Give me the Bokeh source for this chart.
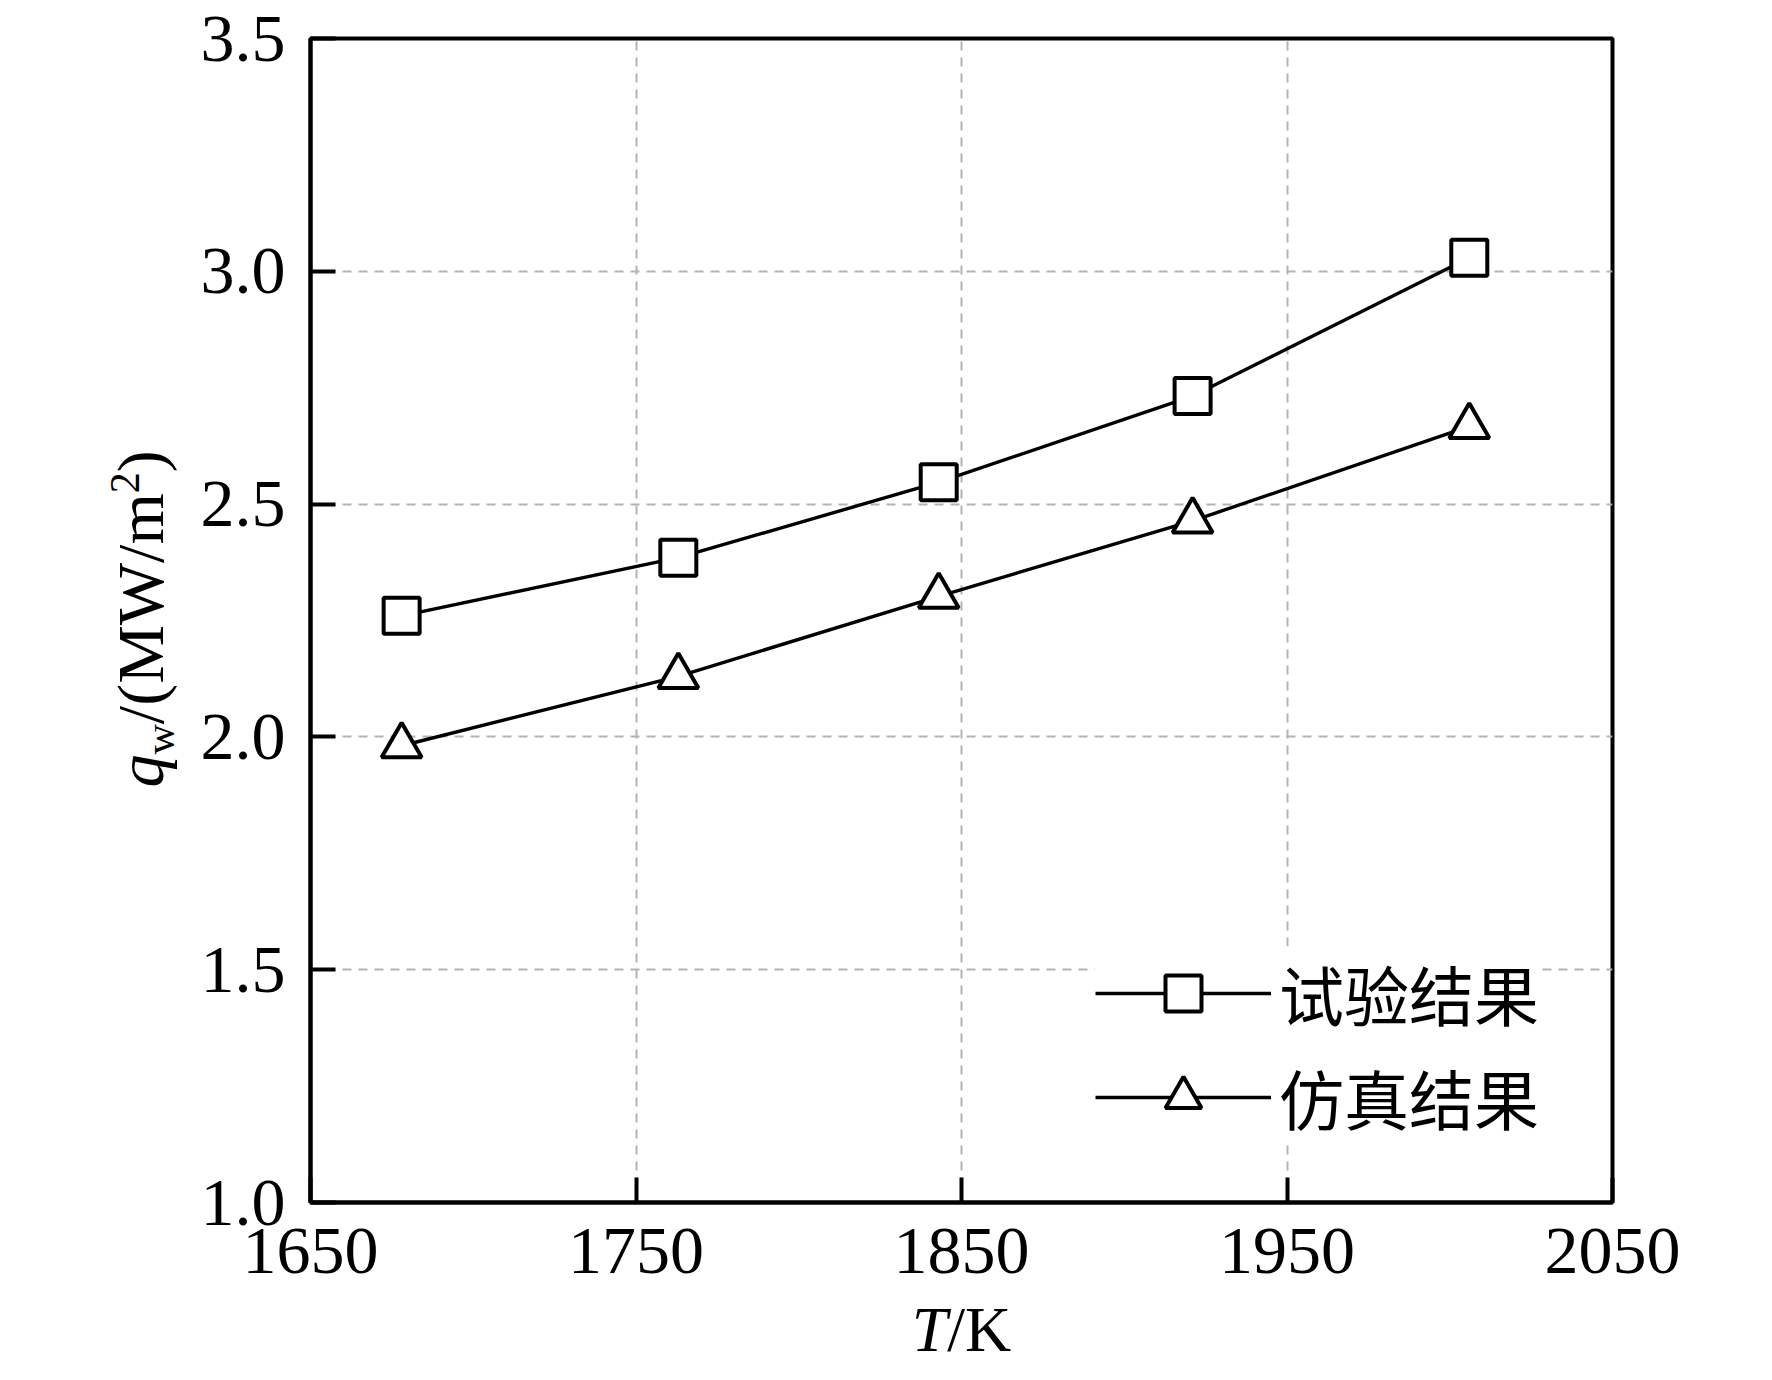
import math
from bokeh.plotting import figure
from bokeh.models import Legend, LegendItem, FixedTicker, Range1d
from bokeh.layouts import row, column
from bokeh.core.properties import value
from bokeh.embed import file_html
from bokeh.resources import INLINE

# ---- data ----
temps = [1678, 1763, 1843, 1921, 2006]
exp_q = [2.260, 2.385, 2.547, 2.732, 3.029]
sim_q = [1.981, 2.130, 2.302, 2.464, 2.667]
series_names = ["试验结果", "仿真结果"]
x_ticks = [1650, 1750, 1850, 1950, 2050]
x_tick_labels = ["1650", "1750", "1850", "1950", "2050"]
y_ticks = [1.0, 1.5, 2.0, 2.5, 3.0, 3.5]
y_tick_labels = ["1.0", "1.5", "2.0", "2.5", "3.0", "3.5"]

SERIF = "Liberation Serif"
CJK = "Noto Sans CJK SC"
FS = 68          # tick labels
TS = 66          # y-axis title
XS = 64          # x-axis title
SUB = 42         # sub/superscript
OFF = 0.33       # text glyph baseline offset (fraction of font size)

FW, FH = 1302, 1164
LEFT_W = 190                  # strip that holds the y-axis title
BL, BR, BT, BB = 120, 100, 38, 104
PW = BL + FW + BR
PH = BT + FH + BB
PAGE_BOTTOM = 1372
FRAME_BOTTOM = 8 + BT + FH    # page y of the frame bottom

p = figure(width=PW, height=PH,
           x_range=Range1d(x_ticks[0], x_ticks[-1]),
           y_range=Range1d(y_ticks[0], y_ticks[-1]),
           output_backend="svg", toolbar_location=None, title_location=None,
           min_border_left=BL, min_border_right=BR,
           min_border_top=BT, min_border_bottom=BB,
           background_fill_color="white", border_fill_color="white")
p.outline_line_color = "black"
p.outline_line_width = 4

for ax, ticks, labels in ((p.xaxis[0], x_ticks, x_tick_labels), (p.yaxis[0], y_ticks, y_tick_labels)):
    ax.ticker = FixedTicker(ticks=ticks, minor_ticks=[])
    ax.major_label_overrides = {t: l for t, l in zip(ticks, labels)}
    ax.axis_line_color = "black"
    ax.axis_line_width = 4
    ax.major_tick_line_color = "black"
    ax.major_tick_line_width = 4
    ax.major_tick_in = 25
    ax.major_tick_out = 0
    ax.minor_tick_line_color = None
    ax.major_label_text_font = SERIF
    ax.major_label_text_font_size = f"{FS}px"
    ax.major_label_text_color = "black"
p.yaxis[0].major_label_standoff = 25
p.xaxis[0].major_label_standoff = 26

p.xgrid.ticker = FixedTicker(ticks=x_ticks[1:-1])
p.ygrid.ticker = FixedTicker(ticks=y_ticks[1:-1])
for g in (p.xgrid[0], p.ygrid[0]):
    g.grid_line_color = "#b3b3b3"
    g.grid_line_width = 2
    g.grid_line_dash = "9 7"

l1 = p.line(temps, exp_q, line_color="black", line_width=3.4)
s1 = p.scatter(temps, exp_q, marker="square", size=36, fill_color="white",
               line_color="black", line_width=4)
l2 = p.line(temps, sim_q, line_color="black", line_width=3.4)
s2 = p.scatter(temps, sim_q, marker="triangle", size=40, fill_color="white",
               line_color="black", line_width=4)

legend = Legend(items=[LegendItem(label=series_names[0], renderers=[l1, s1]),
                       LegendItem(label=series_names[1], renderers=[l2, s2])],
                location=(785, 58), glyph_width=176, glyph_height=90,
                label_height=90, label_standoff=8, spacing=10, padding=20,
                margin=0, border_line_color=None,
                background_fill_color="white", background_fill_alpha=1.0,
                label_text_font=CJK, label_text_font_size="65px",
                label_text_color="black", label_text_baseline="middle")
p.add_layout(legend)


def strip(w, h, yr, **borders):
    f = figure(width=w, height=h, x_range=Range1d(0, w), y_range=Range1d(*yr),
               output_backend="svg", toolbar_location=None, title_location=None,
               x_axis_location=None, y_axis_location=None,
               min_border=0, outline_line_color=None,
               background_fill_color="white", border_fill_color="white", **borders)
    f.xgrid.visible = False
    f.ygrid.visible = False
    return f


def put(f, x, y, text, size=TS, style="normal", angle=0.0):
    f.text(x=[x], y=[y], text=[text], angle=angle,
           text_font=value(SERIF), text_font_style=value(style),
           text_font_size=value(f"{size}px"), text_color="black",
           text_baseline="alphabetic", text_align="left")


# ---- y-axis title: q_w/(MW/m^2), rotated ----
# the strip's frame lines up with the main frame; y = height above the frame bottom
ylab = strip(LEFT_W, PH, (0, FH), min_border_top=BT, min_border_bottom=BB)
w_q = 0.500 * TS
w_w = 0.722 * SUB
w_mid = (0.278 + 0.333 + 0.889 + 0.944 + 0.278 + 0.778) * TS
w_2 = 0.5 * SUB
y0 = FRAME_BOTTOM - 795       # q starts at page y 795
base = 162                    # wanted baseline (strip x)
A = math.pi / 2
put(ylab, base - OFF * TS, y0, "q", style="italic", angle=A)
put(ylab, base + 11 - OFF * SUB, y0 + w_q, "w", size=SUB, angle=A)
put(ylab, base - OFF * TS, y0 + w_q + w_w, "/(MW/m", angle=A)
put(ylab, base - 24 - OFF * SUB, y0 + w_q + w_w + w_mid, "2", size=SUB, angle=A)
put(ylab, base - OFF * TS, y0 + w_q + w_w + w_mid + w_2, ")", angle=A)

# ---- x-axis title: T/K, centred under the frame ----
XL_H = PAGE_BOTTOM - (8 + PH)
xlab = strip(LEFT_W + PW, XL_H, (0, XL_H))
w_T = 0.556 * XS
w_K = (0.278 + 0.722) * XS
xc = 969 - 8
x0 = xc - (w_T + w_K) / 2
yb = (PAGE_BOTTOM - 1358) + OFF * XS
put(xlab, x0, yb, "T", size=XS, style="italic")
put(xlab, x0 + w_T, yb, "/K", size=XS)

layout = column(row(ylab, p), xlab)
open("out.html", "w").write(file_html(layout, INLINE))
